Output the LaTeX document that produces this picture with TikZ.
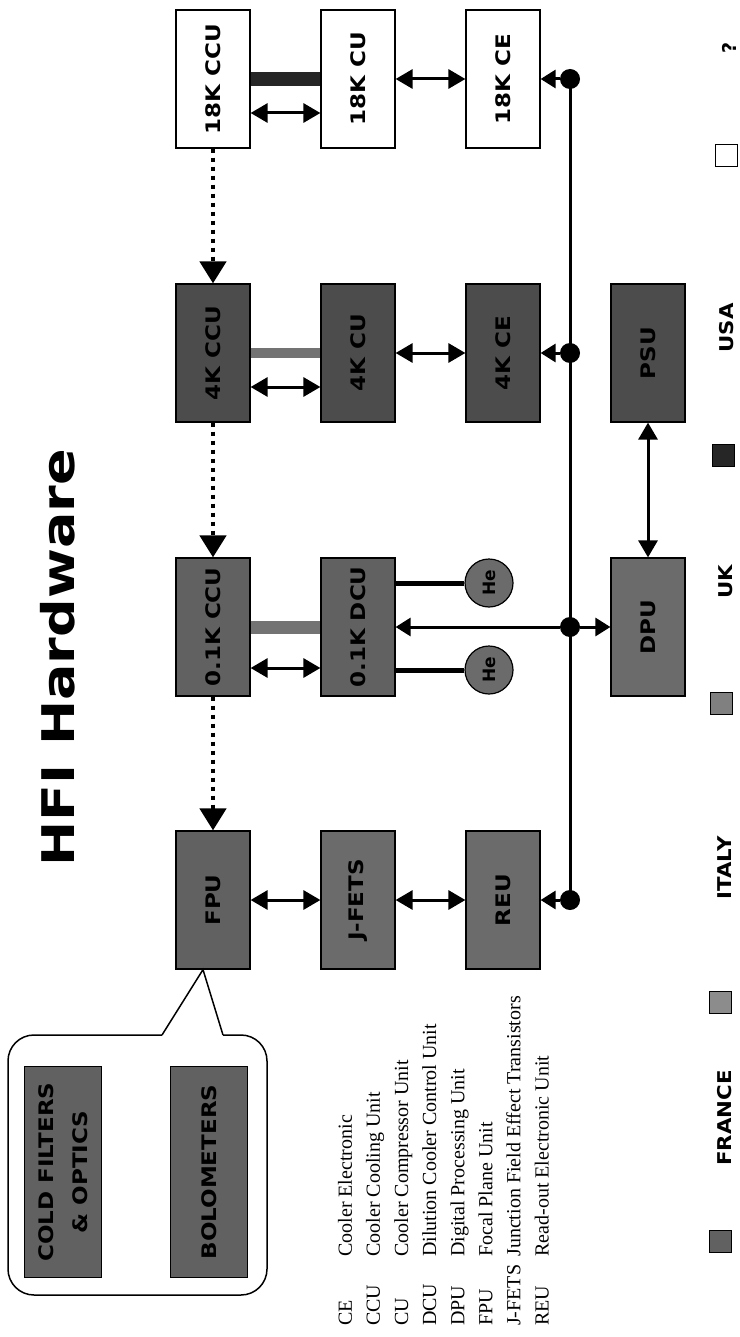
\documentclass[tikz,border=0pt]{standalone}
\usepackage{fontspec}
\usepackage{graphicx}
\setmainfont{Liberation Serif}
\newfontfamily\heavyfont{DejaVu Sans}
\usetikzlibrary{arrows.meta}
\newcommand{\wide}[1]{\scalebox{1.15}[1]{#1}}
\tikzset{
  unitbox/.style={draw, line width=1.2pt, rotate=90, minimum width=138pt, minimum height=74pt, inner sep=0pt, align=center, font=\heavyfont\bfseries\fontsize{20pt}{34pt}\selectfont},
  frbox/.style={unitbox, fill=black!62},
  itbox/.style={unitbox, fill=black!58},
  ukbox/.style={unitbox, fill=black!58},
  usbox/.style={unitbox, fill=black!70},
  coldbox/.style={unitbox, fill=white},
  hecircle/.style={circle, draw, line width=1.2pt, fill=black!58, rotate=90, minimum size=48pt, inner sep=0pt, font=\heavyfont\bfseries\fontsize{17pt}{19pt}\selectfont},
  busdot/.style={circle, fill=black, minimum size=20pt, inner sep=0pt},
  busline/.style={line width=3pt},
  busarrow/.style={line width=3pt, -{Triangle[length=15pt,width=18pt]}},
  dblarrow/.style={line width=3pt, {Triangle[length=17pt,width=19pt]}-{Triangle[length=17pt,width=19pt]}},
  dotarrow/.style={line width=4.5pt, dash pattern=on 4pt off 5pt, -{Triangle[length=22pt,width=26pt]}},
  linkbar/.style={line width=11pt, black!55},
  heline/.style={line width=5pt},
  callout/.style={line width=1.5pt},
  titletext/.style={rotate=90, inner sep=0pt, font=\heavyfont\bfseries\fontsize{45pt}{50pt}\selectfont},
  legendtext/.style={rotate=90, inner sep=0pt, font=\fontsize{20pt}{28.1pt}\selectfont},
  countrytext/.style={rotate=90, inner sep=0pt, font=\heavyfont\bfseries\fontsize{19pt}{22pt}\selectfont},
  keysq/.style={draw, line width=1pt, minimum size=22pt, inner sep=0pt}
}

\begin{document}
\begin{tikzpicture}[x=1pt, y=-1pt]
  \useasboundingbox (0,0) rectangle (739,1337);
  \node[titletext] (title) at (58,658) {\scalebox{1.2}[1]{HFI Hardware}};

  % 18K stage
  \node[coldbox] (ccu18) at (213,79) {\wide{18K CCU}};
  \node[coldbox] (cu18) at (358,79) {\wide{18K CU}};
  \node[coldbox] (ce18) at (503,79) {\wide{18K CE}};
  % 4K stage
  \node[usbox] (ccu4) at (213,353) {\wide{4K CCU}};
  \node[usbox] (cu4) at (358,353) {\wide{4K CU}};
  \node[usbox] (ce4) at (503,353) {\wide{4K CE}};
  \node[usbox] (psu) at (648,353) {\wide{PSU}};
  % 0.1K stage
  \node[frbox] (ccu01) at (213,627) {\wide{0.1K CCU}};
  \node[frbox] (dcu01) at (358,627) {\wide{0.1K DCU}};
  \node[hecircle] (he1) at (489,583) {He};
  \node[hecircle] (he2) at (489,670) {He};
  \node[ukbox] (dpu) at (648,627) {\wide{DPU}};
  % focal plane chain
  \node[frbox] (fpu) at (213,900) {\wide{FPU}};
  \node[itbox] (jfet) at (358,900) {\wide{J-FETS}};
  \node[itbox] (reu) at (503,900) {\wide{REU}};

  % bus
  \node[busdot] (d18) at (570,79) {};
  \node[busdot] (d4) at (570,353) {};
  \node[busdot] (d01) at (570,627) {};
  \node[busdot] (dreu) at (570,900) {};
  \draw[busline] (d18.center) -- (dreu.center);
  \draw[busarrow] (d18) -- (ce18.south);
  \draw[busarrow] (d4) -- (ce4.south);
  \draw[busarrow] (d01) -- (dpu.north);
  \draw[busarrow] (d01) -- (dcu01.south);
  \draw[busarrow] (dreu) -- (reu.south);

  % links inside each stage
  \draw[linkbar, black!85, line width=14pt] (ccu18.south) -- (cu18.north);
  \draw[linkbar, line width=10pt] (ccu4.south) -- (cu4.north);
  \draw[linkbar, line width=13pt] (ccu01.south) -- (dcu01.north);
  \draw[dblarrow] ([yshift=-34pt]ccu18.south) -- ([yshift=-34pt]cu18.north);
  \draw[dblarrow] ([yshift=-34pt]ccu4.south) -- ([yshift=-34pt]cu4.north);
  \draw[dblarrow] ([yshift=-41pt]ccu01.south) -- ([yshift=-41pt]dcu01.north);
  \draw[dblarrow] (cu18.south) -- (ce18.north);
  \draw[dblarrow] (cu4.south) -- (ce4.north);
  \draw[dblarrow] (fpu.south) -- (jfet.north);
  \draw[dblarrow] (jfet.south) -- (reu.north);
  \draw[dblarrow] (psu.west) -- (dpu.east);
  \draw[heline] (he1.north) -- (he1.north -| dcu01.south);
  \draw[heline] (he2.north) -- (he2.north -| dcu01.south);

  % cooling chain
  \draw[dotarrow] (ccu18.west) -- (ccu4.east);
  \draw[dotarrow] (ccu4.west) -- (ccu01.east);
  \draw[dotarrow] (ccu01.west) -- (fpu.east);

  % focal plane detail
  \coordinate (tip) at ([xshift=-10pt]fpu.west);
  \draw[callout, rounded corners=26pt] (162,1035) -- (8,1035) -- (8,1295) -- (267,1295) -- (267,1035) -- (223,1035);
  \draw[callout] (162,1035) -- (tip) -- (223,1035);
  \node[frbox, minimum width=211pt, minimum height=77pt] (filt) at (63,1172) {\wide{COLD FILTERS}\\\wide{\& OPTICS}};
  \node[frbox, minimum width=211pt, minimum height=77pt] (bolo) at (209,1172) {\wide{BOLOMETERS}};

  % abbreviations
  \node[legendtext, anchor=north west] (abbrev) at (332,1326) {%
    \begin{tabular}{@{}l@{\hspace{8pt}}l@{}}
      CE & Cooler Electronic\\
      CCU & Cooler Cooling Unit\\
      CU & Cooler Compressor Unit\\
      DCU & Dilution Cooler Control Unit\\
      DPU & Digital Processing Unit\\
      FPU & Focal Plane Unit\\
      J-FETS & Junction Field Effect Transistors\\
      REU & Read-out Electronic Unit
    \end{tabular}};

  % countries
  \node[keysq, fill=black!62] (kfr) at (720,1241) {};
  \node[countrytext] (lfr) at (725,1118) {\scalebox{1.12}[1]{FRANCE}};
  \node[keysq, fill=black!45] (kit) at (720,1002) {};
  \node[countrytext] (lit) at (725,868) {\scalebox{1.12}[1]{ITALY}};
  \node[keysq, fill=black!50] (kuk) at (721,703) {};
  \node[countrytext] (luk) at (726,582) {\scalebox{1.12}[1]{UK}};
  \node[keysq, fill=black!85] (kus) at (723,455) {};
  \node[countrytext] (lus) at (727,328) {\scalebox{1.12}[1]{USA}};
  \node[keysq, fill=white] (kqq) at (726,156) {};
  \node[countrytext] (lqq) at (729,48) {?};
\end{tikzpicture}
\end{document}
